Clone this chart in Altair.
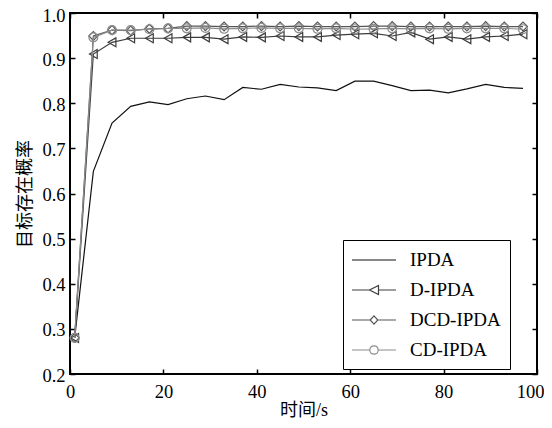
import altair as alt
import pandas as pd

# ---- data ----
x_vals = [1, 5, 9, 13, 17, 21, 25, 29, 33, 37, 41, 45, 49,
          53, 57, 61, 65, 69, 73, 77, 81, 85, 89, 93, 97]
ipda = [0.280, 0.649, 0.756, 0.793, 0.803, 0.797, 0.810, 0.816, 0.808, 0.835, 0.831, 0.842, 0.836,
        0.834, 0.828, 0.849, 0.849, 0.839, 0.828, 0.829, 0.823, 0.832, 0.842, 0.835, 0.833]
d_ipda = [0.280, 0.909, 0.935, 0.944, 0.944, 0.944, 0.946, 0.946, 0.942, 0.947, 0.946, 0.949, 0.947,
          0.947, 0.951, 0.953, 0.955, 0.949, 0.957, 0.942, 0.947, 0.942, 0.947, 0.949, 0.953]
dcd_ipda = [0.280, 0.949, 0.962, 0.961, 0.965, 0.966, 0.971, 0.971, 0.970, 0.970, 0.971, 0.970, 0.971,
            0.970, 0.970, 0.970, 0.971, 0.971, 0.970, 0.970, 0.970, 0.970, 0.971, 0.970, 0.970]
cd_ipda = [0.280, 0.946, 0.962, 0.962, 0.964, 0.966, 0.966, 0.967, 0.965, 0.966, 0.967, 0.966, 0.966,
           0.965, 0.966, 0.964, 0.965, 0.966, 0.965, 0.966, 0.965, 0.966, 0.966, 0.966, 0.964]

series_names = ["IPDA", "D-IPDA", "DCD-IPDA", "CD-IPDA"]
series_colors = ["#111111", "#3c3c3c", "#555555", "#8c8c8c"]
marker_shapes = [None, "triangle-left", "diamond", "circle"]
legend_paths = [
    "M-2.2,0L2.2,0",
    "M-2.2,0L-0.45,0M0.45,0L2.2,0M-0.45,0L0.45,-0.45L0.45,0.45Z",
    "M-2.2,0L-0.38,0M0.38,0L2.2,0M-0.38,0L0,-0.42L0.38,0L0,0.42Z",
    "M-2.2,0L-0.42,0M0.42,0L2.2,0M-0.42,0A0.42,0.42,0,1,0,0.42,0A0.42,0.42,0,1,0,-0.42,0Z",
]
x_ticks = [0, 20, 40, 60, 80, 100]
y_ticks = [0.2, 0.3, 0.4, 0.5, 0.6, 0.7, 0.8, 0.9, 1.0]
x_title = "时间/s"
y_title = "目标存在概率"

rows = []
for name, vals in zip(series_names, [ipda, d_ipda, dcd_ipda, cd_ipda]):
    for xv, v in zip(x_vals, vals):
        rows.append({"x": xv, "value": v, "series": name})
df = pd.DataFrame(rows)

serif = "Times New Roman, Liberation Serif, DejaVu Serif, serif"
cjk = "Times New Roman, Noto Sans CJK SC"

xscale = alt.Scale(domain=[0, 100], nice=False, zero=False)
yscale = alt.Scale(domain=[0.2, 1.0], nice=False, zero=False)

label_style = dict(labelFont=serif, labelFontSize=18.5, labelColor="black",
                   titleFont=cjk, titleFontSize=18, titleFontWeight="normal",
                   titleColor="black")
common = dict(offset=-5, tickSize=5, domain=False, grid=False, tickColor="black",
              tickWidth=1.5, labelFlush=False)

bottom_axis = alt.Axis(orient="bottom", values=x_ticks, title=x_title, labelPadding=8,
                       labelAlign={"condition": {"test": "datum.value == 100", "value": "right"},
                                   "value": "center"},
                       labelOffset={"condition": {"test": "datum.value == 100", "value": 7},
                                    "value": 0},
                       titlePadding=1, **common, **label_style)
left_axis = alt.Axis(orient="left", values=y_ticks, format=".1f", title=y_title,
                     labelPadding=5,
                     labelOffset={"condition": {"test": "datum.value >= 0.99", "value": 2.5},
                                  "value": 1},
                     titlePadding=7, **common, **label_style)
top_axis = alt.Axis(orient="top", values=x_ticks, labels=False, title=None, **common)
right_axis = alt.Axis(orient="right", values=y_ticks, labels=False, title=None, **common)

legend = alt.Legend(title=None, orient="none", legendX=273, legendY=227, padding=9,
                    strokeColor="black", fillColor="white", cornerRadius=0,
                    symbolSize=400, symbolStrokeWidth=1.2, symbolOffset=11,
                    symbolFillColor="transparent", labelOffset=25, rowPadding=9,
                    labelFont=serif, labelFontSize=19, labelColor="black",
                    labelExpr="datum.label + '\u00a0\u00a0\u00a0\u00a0\u00a0'")

layers = []
for i, (name, color, shape) in enumerate(zip(series_names, series_colors, marker_shapes)):
    base = alt.Chart(df).transform_filter(alt.datum.series == name)
    xa = bottom_axis if i == 0 else None
    ya = left_axis if i == 0 else None
    line = base.mark_line(color=color, strokeWidth=1.2).encode(
        x=alt.X("x:Q", scale=xscale, axis=xa),
        y=alt.Y("value:Q", scale=yscale, axis=ya),
    )
    layers.append(line)
    if shape:
        pts = base.mark_point(shape=shape, filled=False, color=color, size=80,
                              strokeWidth=1.2, opacity=1).encode(
            x=alt.X("x:Q", scale=xscale, axis=None),
            y=alt.Y("value:Q", scale=yscale, axis=None),
        )
        layers.append(pts)

legend_layer = alt.Chart(df).transform_filter("false").mark_point(
    filled=False, strokeWidth=1.2, opacity=1
).encode(
    x=alt.X("x:Q", scale=xscale, axis=top_axis),
    y=alt.Y("value:Q", scale=yscale, axis=right_axis),
    color=alt.Color("series:N", scale=alt.Scale(domain=series_names, range=series_colors),
                    legend=legend),
    shape=alt.Shape("series:N", scale=alt.Scale(domain=series_names, range=legend_paths),
                    legend=legend),
)
layers.append(legend_layer)

chart = alt.layer(*layers).resolve_axis(x="independent", y="independent").properties(
    width=467, height=361,
    autosize=alt.AutoSizeParams(type="none"),
    padding={"left": 62, "top": 5, "right": 7, "bottom": 46},
).configure(background="white").configure_view(
    stroke="black", strokeWidth=2
).configure_axis(**label_style)

chart.save("out.html", embed_options={"renderer": "svg", "actions": False})
